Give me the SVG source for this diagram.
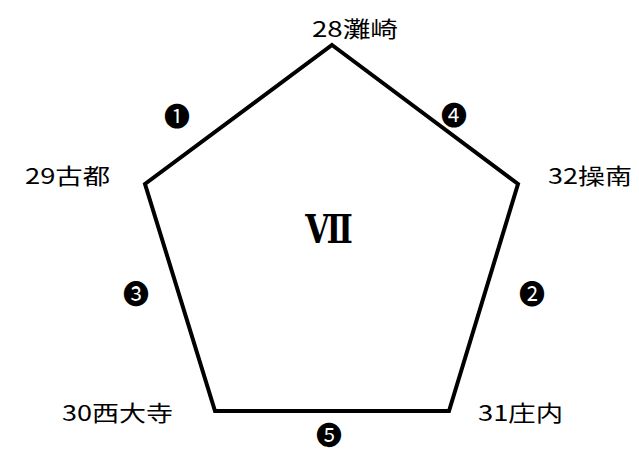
<svg xmlns="http://www.w3.org/2000/svg" width="639" height="452" viewBox="0 0 639 452">
<style>
.lbl{font-family:"Noto Sans CJK JP","Liberation Sans",sans-serif;font-size:22px;fill:#000}
.num{font-family:"Noto Sans CJK JP","DejaVu Sans",sans-serif;font-size:26px;fill:#000;text-anchor:middle}
.edge{fill:none;stroke:#000;stroke-width:4;stroke-linejoin:miter}
.big{font-family:"DejaVu Serif","Liberation Serif",serif;font-size:40px;font-weight:bold;fill:#000;text-anchor:middle}
</style>
<rect width="639" height="452" fill="#fff"/>
<g id="connectors">
<polygon class="edge" points="332,45 518,184 449,411 215,411 145,184"/>
</g>
<g id="edge-labels">
<text class="num" x="177" y="126">❶</text>
<text class="num" x="532" y="304">❷</text>
<text class="num" x="136" y="304">❸</text>
<text class="num" x="454" y="125">❹</text>
<text class="num" x="329" y="445">❺</text>
</g>
<g id="center"><text class="big" transform="translate(329,243) scale(0.78,1)">Ⅶ</text></g>
<g id="n28"><text class="lbl" x="312" y="37" textLength="86" lengthAdjust="spacingAndGlyphs">28灘崎</text></g>
<g id="n29"><text class="lbl" x="25" y="184" textLength="85" lengthAdjust="spacingAndGlyphs">29古都</text></g>
<g id="n32"><text class="lbl" x="548" y="184" textLength="84" lengthAdjust="spacingAndGlyphs">32操南</text></g>
<g id="n30"><text class="lbl" x="62" y="421" textLength="111" lengthAdjust="spacingAndGlyphs">30西大寺</text></g>
<g id="n31"><text class="lbl" x="478" y="421" textLength="85" lengthAdjust="spacingAndGlyphs">31庄内</text></g>
</svg>
